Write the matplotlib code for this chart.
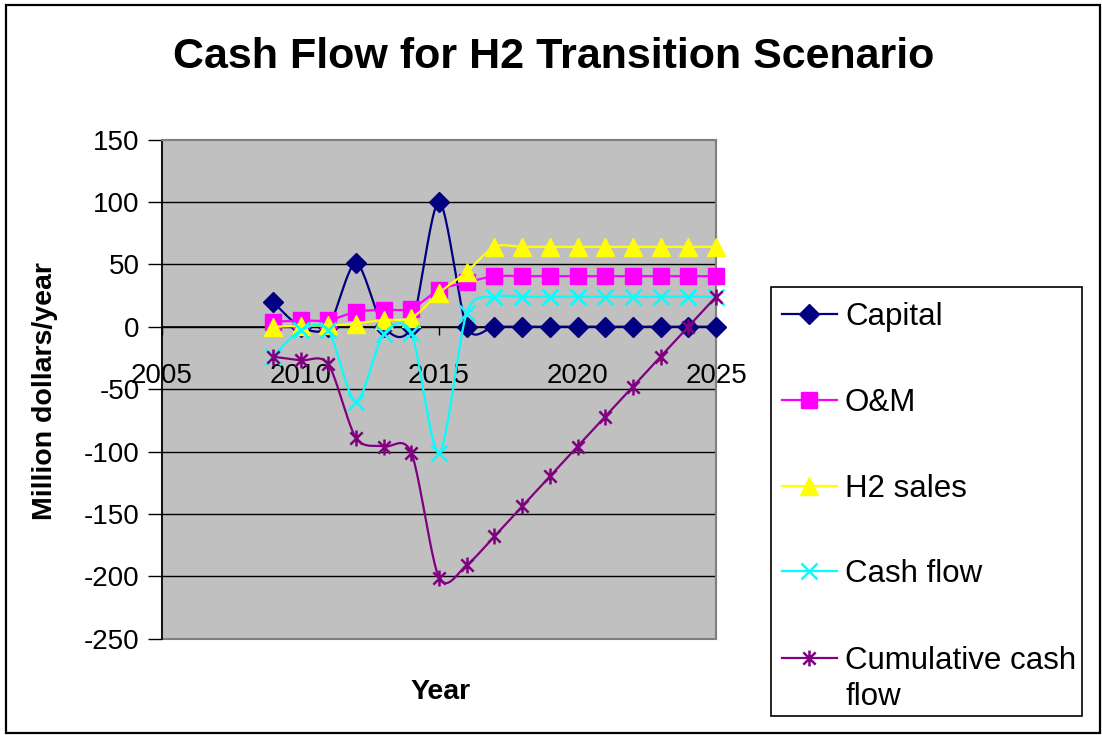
import numpy as np
import matplotlib
matplotlib.use("Agg")
import matplotlib.pyplot as plt
from matplotlib.path import Path
from matplotlib.lines import Line2D
from matplotlib.patches import Rectangle

plt.rcParams['font.family'] = ['Liberation Sans', 'DejaVu Sans']
plt.rcParams['axes.unicode_minus'] = False

# ---------------- data ----------------
years = list(range(2009, 2026))
capital = [20, 0, 0, 51, 0, 0, 100, 0, 0, 0, 0, 0, 0, 0, 0, 0, 0]
om = [4, 5, 5, 12, 13.5, 14.5, 29.5, 35.5, 40.5, 40.5, 40.5, 40.5, 40.5, 40.5, 40.5, 40.5, 40.5]
h2_sales = [0, 0.5, 1, 2.5, 5.5, 7, 27, 44, 64, 64, 64, 64, 64, 64, 64, 64, 64]
cash_flow = [-24, -3, -3, -60, -6, -5, -101, 11, 24, 24, 24, 24, 24, 24, 24, 24, 24]
cumulative = [-24, -27, -30, -89, -96, -101, -201, -191, -168, -144, -120, -96, -72, -48, -24, 0, 24]

series_names = ["Capital", "O&M", "H2 sales", "Cash flow", "Cumulative cash\nflow"]
x_ticks = [2005, 2010, 2015, 2020, 2025]
y_ticks = [-250, -200, -150, -100, -50, 0, 50, 100, 150]

# ---------------- styles ----------------
W, H = 1102, 735
asterisk = Path([(-1, -1), (1, 1), (-1, 1), (1, -1), (0, -1.3), (0, 1.3)],
                [Path.MOVETO, Path.LINETO, Path.MOVETO, Path.LINETO, Path.MOVETO, Path.LINETO])
styles = [
    dict(color="#000080", marker="D", ms=10.5, mfc="#000080", mec="#000080", mew=1),
    dict(color="#FF00FF", marker="s", ms=11, mfc="#FF00FF", mec="#FF00FF", mew=1),
    dict(color="#FFFF00", marker="^", ms=13.5, mfc="#FFFF00", mec="#FFFF00", mew=1),
    dict(color="#00FFFF", marker="x", ms=11.5, mfc="none", mec="#00FFFF", mew=1.8),
    dict(color="#800080", marker=asterisk, ms=11.5, mfc="none", mec="#800080", mew=1.8),
]
LW = 1.6
TENSION = 1 / 7.0


def smooth(x, y, n=24):
    """Bezier smoothing like a spreadsheet 'smoothed line'."""
    x = np.asarray(x, float)
    y = np.asarray(y, float)
    P = np.column_stack([x, y])
    Pe = np.vstack([P[0], P, P[-1]])
    out = [P[:1]]
    t = np.linspace(0, 1, n)[1:, None]
    for i in range(len(P) - 1):
        p0, p1, p2, p3 = Pe[i], Pe[i + 1], Pe[i + 2], Pe[i + 3]
        c1 = p1 + (p2 - p0) * TENSION
        c2 = p2 - (p3 - p1) * TENSION
        seg = ((1 - t) ** 3) * p1 + 3 * ((1 - t) ** 2) * t * c1 + 3 * (1 - t) * t ** 2 * c2 + t ** 3 * p2
        out.append(seg)
    A = np.vstack(out)
    return A[:, 0], A[:, 1]


def fx(px):
    return px / W


def fy(py):
    return 1 - py / H


fig = plt.figure(figsize=(W / 100, H / 100), dpi=100)
fig.patch.set_facecolor("white")

# outer chart border
fig.add_artist(Rectangle((fx(6), fy(733)), fx(1100) - fx(6), fy(5) - fy(733),
                         transform=fig.transFigure, fill=False, ec="black", lw=1.6, zorder=0))

ax = fig.add_axes([fx(162), fy(638.7), fx(716) - fx(162), fy(139.5) - fy(638.7)])
ax.set_facecolor("#C0C0C0")
ax.set_xlim(2005, 2025)
ax.set_ylim(-250, 150)

# gridlines
for v in y_ticks[1:-1]:
    ax.axhline(v, color="black", lw=1.0, zorder=1)

for sp in ["top", "right"]:
    ax.spines[sp].set_color("#808080")
    ax.spines[sp].set_linewidth(1.5)
ax.spines["left"].set_color("black")
ax.spines["left"].set_linewidth(1.2)
ax.spines["bottom"].set_position(("data", 0))
ax.spines["bottom"].set_color("black")
ax.spines["bottom"].set_linewidth(1.2)
ax.add_patch(Rectangle((0, 0), 1, 1, transform=ax.transAxes, fill=False,
                       ec="#808080", lw=1.5, zorder=0.5, clip_on=False))

ax.set_xticks(x_ticks)
ax.set_yticks(y_ticks)
ax.tick_params(axis="x", direction="out", length=6, width=1, pad=20, labelsize=20, colors="black")
ax.tick_params(axis="y", direction="out", length=10, width=1, pad=6, labelsize=20, colors="black")

datasets = [capital, om, h2_sales, cash_flow, cumulative]
for i, (vals, st) in enumerate(zip(datasets, styles)):
    sx, sy = smooth(years, vals)
    ax.plot(sx, sy, color=st["color"], lw=LW, zorder=3 + i * 0.1, clip_on=False)
    ax.plot(years, vals, ls="none", marker=st["marker"], ms=st["ms"], mfc=st["mfc"],
            mec=st["mec"], mew=st["mew"], zorder=3.05 + i * 0.1, clip_on=False)

# titles
fig.text(fx(554), fy(57), "Cash Flow for H2 Transition Scenario", ha="center", va="center",
         fontsize=31, fontweight="bold")
fig.text(fx(441), fy(692), "Year", ha="center", va="center", fontsize=20.5, fontweight="bold")
fig.text(fx(45), fy(391), "Million dollars/year", ha="center", va="center", rotation=90,
         fontsize=20.5, fontweight="bold")

# legend (box with sample lines)
fig.add_artist(Rectangle((fx(771), fy(716)), fx(1082) - fx(771), fy(287) - fy(716),
                         transform=fig.transFigure, fill=True, fc="white", ec="black", lw=1.2))
baselines = [325, 411, 497, 582, 669]
for name, st, bl in zip(series_names, styles, baselines):
    yy = fy(bl - 11)
    fig.add_artist(Line2D([fx(782), fx(837)], [yy, yy], transform=fig.transFigure,
                          color=st["color"], lw=LW))
    fig.add_artist(Line2D([fx(809)], [yy], transform=fig.transFigure, ls="none",
                          marker=st["marker"], ms=st["ms"], mfc=st["mfc"], mec=st["mec"], mew=st["mew"]))
    fig.text(fx(845), fy(bl), name.split("\n")[0], ha="left", va="baseline", fontsize=22.5)
    if "\n" in name:
        fig.text(fx(845), fy(bl + 36), name.split("\n")[1], ha="left", va="baseline", fontsize=22.5)

fig.savefig("out.png", dpi=100)
